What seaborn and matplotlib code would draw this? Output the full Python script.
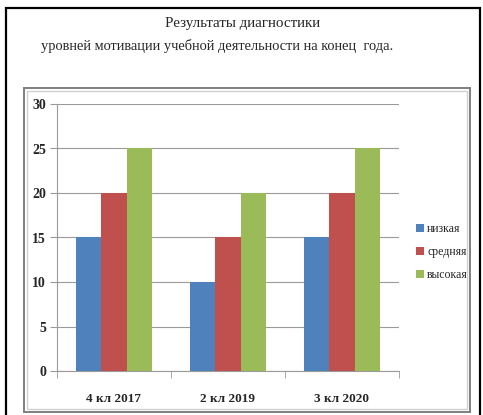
import matplotlib
matplotlib.use("Agg")
import matplotlib.pyplot as plt
from matplotlib.patches import Rectangle
import seaborn as sns
import pandas as pd

categories = ["4 кл 2017", "2 кл 2019", "3 кл 2020"]
levels = ["низкая", "средняя", "высокая"]
low = [15, 10, 15]
mid = [20, 15, 20]
high = [25, 20, 25]
colors = ["#4F81BD", "#C0504D", "#9BBB59"]

rows = []
for i, c in enumerate(categories):
    for lvl, vals in zip(levels, [low, mid, high]):
        rows.append({"class": c, "level": lvl, "value": vals[i]})
df = pd.DataFrame(rows)

sns.set_style("white")
plt.rcParams["font.family"] = ["Liberation Serif", "DejaVu Serif"]

W, H = 483, 415
fig = plt.figure(figsize=(W / 100, H / 100), dpi=100)

def fx(x):
    return x / W

def fy(y):
    return 1 - y / H

# outer black frame
fig.patches.append(Rectangle((fx(6), fy(430)), fx(474), 430 / H - 8 / H,
                             transform=fig.transFigure, fill=False,
                             edgecolor="black", linewidth=1.6))
# chart area frame (double gray)
fig.patches.append(Rectangle((fx(24), fy(412)), fx(446), (412 - 88) / H,
                             transform=fig.transFigure, fill=False,
                             edgecolor="#7f7f7f", linewidth=1.4))
fig.patches.append(Rectangle((fx(27), fy(409)), fx(440), (409 - 91) / H,
                             transform=fig.transFigure, fill=False,
                             edgecolor="#d0d0d0", linewidth=1.0))

fig.text(fx(243), fy(23), "Результаты диагностики", ha="center", va="center", fontsize=10.8)
fig.text(fx(217), fy(46), "уровней мотивации учебной деятельности на конец  года.",
         ha="center", va="center", fontsize=10.4)

ax = fig.add_axes([fx(57), 44 / H, fx(342), 267 / H])
sns.barplot(data=df, x="class", y="value", hue="level", palette=colors,
            width=0.66, gap=0, saturation=1, ax=ax, zorder=3, linewidth=0)

ax.set_ylim(0, 30)
ax.set_yticks(range(0, 31, 5))
ax.set_xlim(-0.5, 2.5)
ax.set_xlabel("")
ax.set_ylabel("")
ax.yaxis.grid(True, color="#9a9a9a", linewidth=0.8)
ax.set_axisbelow(True)
for s in ["top", "right"]:
    ax.spines[s].set_visible(False)
ax.spines["left"].set_color("#9a9a9a")
ax.spines["bottom"].set_color("#9a9a9a")
ax.tick_params(axis="y", left=True, length=5, color="#9a9a9a", labelsize=10, pad=3)
ax.tick_params(axis="x", bottom=False, labelsize=9.5, pad=12)
for t in ax.get_xticklabels() + ax.get_yticklabels():
    t.set_fontweight("bold")
# category boundary ticks on x axis
ax.set_xticks([-0.5, 0.5, 1.5, 2.5], minor=True)
ax.tick_params(axis="x", which="minor", bottom=True, length=5, color="#9a9a9a")

ax.legend(loc="center left", bbox_to_anchor=(1.02, 0.445), frameon=False,
          fontsize=8.5, handlelength=0.6, handleheight=0.6, handletextpad=0.3,
          labelspacing=0.95)

fig.savefig("out.png", dpi=100)
